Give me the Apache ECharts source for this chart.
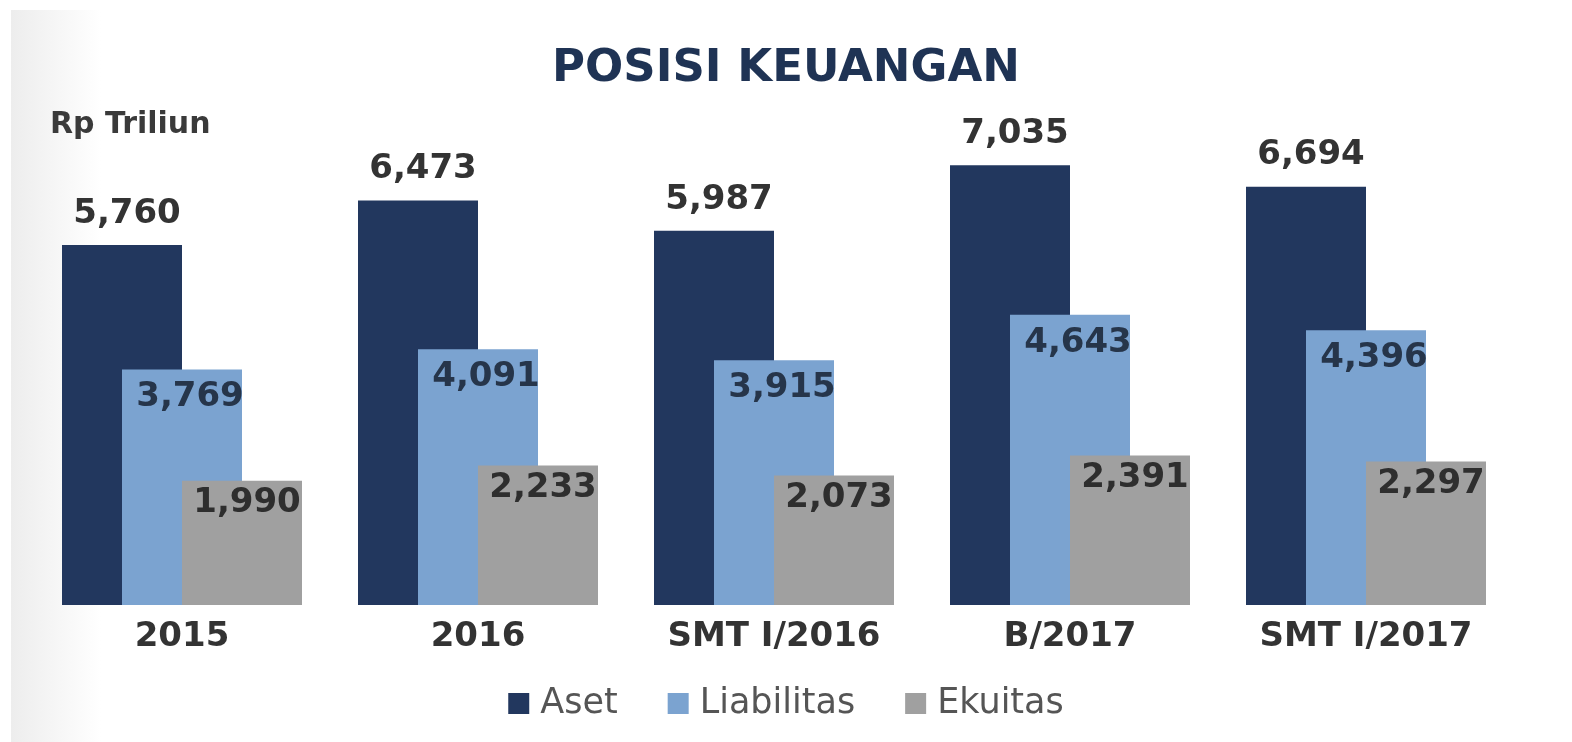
<!DOCTYPE html>
<html>
<head>
<meta charset="utf-8">
<title>Posisi Keuangan</title>
<script src="https://cdn.jsdelivr.net/npm/echarts@6/dist/echarts.min.js"></script>
<style>
    html, body { margin: 0; padding: 0; background: #fff; }
    #main { width: 1572px; height: 742px; }
</style>
</head>
<body>
<div id="main"></div>
<script>
// data (Rp Triliun)
var categories = ["2015", "2016", "SMT I/2016", "B/2017", "SMT I/2017"];
var aset = [5760, 6473, 5987, 7035, 6694];
var liabilitas = [3769, 4091, 3915, 4643, 4396];
var ekuitas = [1990, 2233, 2073, 2391, 2297];

var FONT = "'DejaVu Sans', 'Open Sans', sans-serif";

var my_chart = echarts.init(document.getElementById("main"));

function fmt(p) {
    return p.value.toLocaleString("en-US");
}

// label style shared by all the bars
function barLabel(pos, dist, color, dx) {
    return {
        show: true,
        position: pos,
        distance: dist,
        offset: [dx, 0],
        formatter: fmt,
        fontFamily: FONT,
        fontWeight: "bold",
        fontSize: 34,
        color: color
    };
}

var option = {
    animation: false,
    backgroundColor: "#ffffff",
    // soft grey edge on the left like the scanned slide
    graphic: [{
        type: "rect",
        z: -10,
        shape: { x: 11, y: 10, width: 90, height: 732 },
        style: {
            fill: new echarts.graphic.LinearGradient(0, 0, 1, 0, [
                { offset: 0, color: "#ededed" },
                { offset: 1, color: "#ffffff" }
            ])
        }
    }, {
        type: "text",
        left: 50,
        top: 110,
        style: {
            text: "Rp Triliun",
            font: "bold 30px " + FONT,
            fill: "#3a3a3a"
        }
    }],
    title: {
        text: "POSISI KEUANGAN",
        left: "center",
        top: 42,
        textStyle: {
            fontFamily: FONT,
            fontWeight: "bold",
            fontSize: 45,
            color: "#1f3354"
        }
    },
    legend: {
        bottom: 16,
        left: "center",
        icon: "rect",
        itemWidth: 21,
        itemHeight: 21,
        itemGap: 50,
        textStyle: {
            fontFamily: FONT,
            fontSize: 35,
            color: "#555555",
            padding: [0, 0, 0, 6]
        },
        data: ["Aset", "Liabilitas", "Ekuitas"]
    },
    grid: {
        left: 34,
        right: 58,
        top: 105,
        bottom: 137
    },
    xAxis: {
        type: "category",
        data: categories,
        axisLine: { show: false },
        axisTick: { show: false },
        axisLabel: {
            margin: 15,
            fontFamily: FONT,
            fontWeight: "bold",
            fontSize: 34,
            color: "#333333"
        }
    },
    yAxis: {
        type: "value",
        min: 0,
        max: 8000,
        show: false,
        splitLine: { show: false }
    },
    series: [
        {
            name: "Aset",
            type: "bar",
            data: aset,
            barWidth: 120,
            barGap: "-50%",
            itemStyle: { color: "#22375e" },
            label: barLabel("top", 14, "#333333", 5)
        },
        {
            name: "Liabilitas",
            type: "bar",
            data: liabilitas,
            barWidth: 120,
            barGap: "-50%",
            itemStyle: { color: "#7ba3d0" },
            label: barLabel("insideTop", 11, "#26354a", 8)
        },
        {
            name: "Ekuitas",
            type: "bar",
            data: ekuitas,
            barWidth: 120,
            barGap: "-50%",
            itemStyle: { color: "#a0a0a0" },
            label: barLabel("insideTop", 6, "#2e2e2e", 5)
        }
    ]
};

my_chart.setOption(option);

window.addEventListener("resize", function () {
    my_chart.resize();
});
</script>
</body>
</html>
